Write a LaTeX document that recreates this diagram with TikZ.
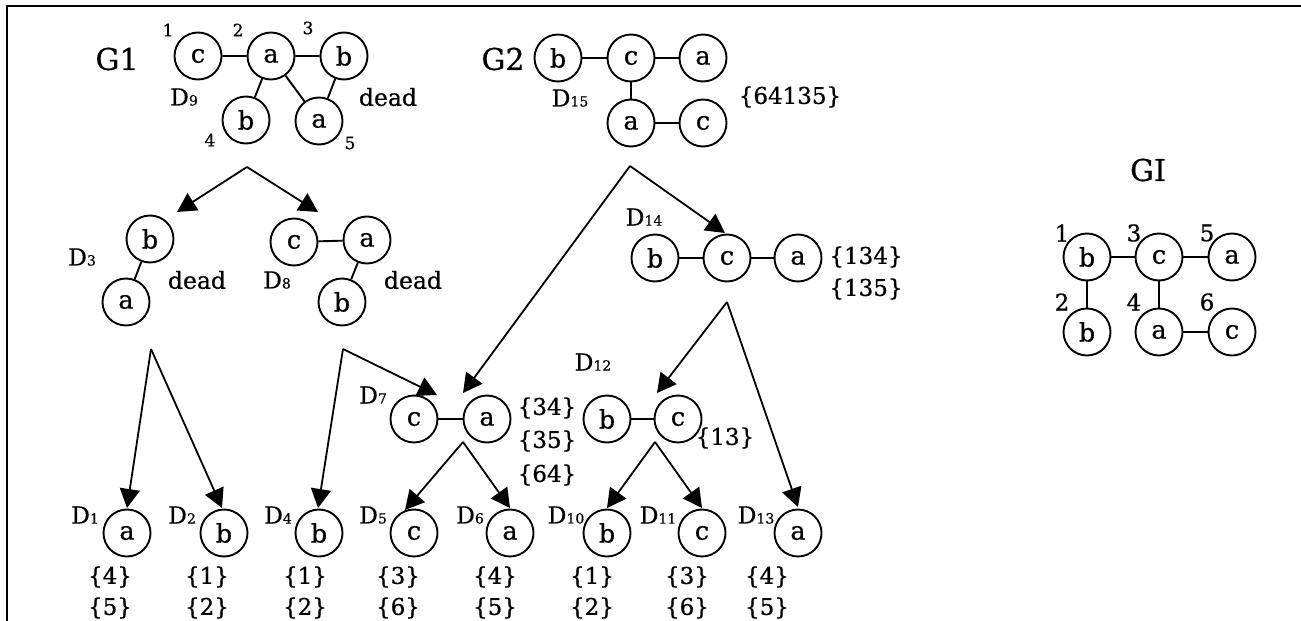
\documentclass[tikz,border=0pt]{standalone}
\usepackage{fontspec}
\setmainfont{DejaVu Serif}[FakeBold=0.6]
\usetikzlibrary{arrows.meta}
\newcommand\Dl[1]{D{\fontsize{14}{14}\selectfont #1}}
\begin{document}
\begin{tikzpicture}[x=1pt,y=-1pt,
 vtx/.style={draw, circle, minimum size=47pt, inner sep=0pt, line width=1.9pt, font=\fontsize{25.5}{25.5}\selectfont},
 lnk/.style={line width=1.9pt},
 arr/.style={line width=1.8pt, -{Triangle[length=19pt,width=20pt]}},
 title/.style={font=\fontsize{30}{30}\selectfont, inner sep=0pt},
 lbl/.style={font=\fontsize{23.5}{23.5}\selectfont, inner sep=0pt},
 num/.style={font=\fontsize{17}{17}\selectfont, inner sep=0pt},
 gnum/.style={font=\fontsize{23}{23}\selectfont, inner sep=0pt},
 setl/.style={font=\fontsize{23}{23}\selectfont, inner sep=0pt},
]
\useasboundingbox (0,0) rectangle (1301,621);
\draw[line width=2.6pt] (7,621) -- (7,6) -- (1301,6);

% ---------- G1 ----------
\node[title] (G1) at (117,59) {G1};
\node[vtx] (g1c) at (198,56) {c};
\node[vtx] (g1a) at (271,56) {a};
\node[vtx] (g1b) at (344,56) {b};
\node[vtx] (g1b4) at (246,120) {b};
\node[vtx] (g1a5) at (319,121) {a};
\draw[lnk] (g1c) -- (g1a) (g1a) -- (g1b) (g1a) -- (g1b4) (g1a) -- (g1a5) (g1b) -- (g1a5);
\node[num] (n1) at (168,30) {1};
\node[num] (n2) at (238,30) {2};
\node[num] (n3) at (308,28) {3};
\node[num] (n4) at (210,140) {4};
\node[num] (n5) at (350,143) {5};
\node[lbl] (D9) at (184,97) {\Dl{9}};
\node[lbl] (dead1) at (388,97) {dead};

% ---------- G2 ----------
\node[title] (G2) at (503,59) {G2};
\node[vtx] (g2b) at (558,58) {b};
\node[vtx] (g2c) at (631,58) {c};
\node[vtx] (g2a) at (703,58) {a};
\node[vtx] (g2a2) at (631,123) {a};
\node[vtx] (g2c2) at (703,123) {c};
\draw[lnk] (g2b) -- (g2c) (g2c) -- (g2a) (g2c) -- (g2a2) (g2a2) -- (g2c2);
\node[lbl] (D15) at (570,98) {\Dl{15}};
\node[setl] (s64135) at (790,97) {\{64135\}};

% ---------- D3, D8 ----------
\node[vtx] (d3b) at (150,239) {b};
\node[vtx] (d3a) at (126,302) {a};
\draw[lnk] (d3b) -- (d3a);
\node[lbl] (D3) at (82,257) {\Dl{3}};
\node[lbl] (dead3) at (197,280) {dead};
\node[vtx] (d8c) at (294,242) {c};
\node[vtx] (d8a) at (367,240) {a};
\node[vtx] (d8b) at (342,302) {b};
\draw[lnk] (d8c) -- (d8a) (d8a) -- (d8b);
\node[lbl] (D8) at (277,280) {\Dl{8}};
\node[lbl] (dead8) at (413,280) {dead};

% ---------- D14 ----------
\node[vtx] (d14b) at (655,258) {b};
\node[vtx] (d14c) at (727,258) {c};
\node[vtx] (d14a) at (798,258) {a};
\draw[lnk] (d14b) -- (d14c) (d14c) -- (d14a);
\node[lbl] (D14) at (644,217) {\Dl{14}};
\node[setl] (s134) at (866,257) {\{134\}};
\node[setl] (s135) at (866,289) {\{135\}};

% ---------- D7, D12 ----------
\node[vtx] (d7c) at (414,419) {c};
\node[vtx] (d7a) at (487,419) {a};
\draw[lnk] (d7c) -- (d7a);
\node[lbl] (D7) at (373,395) {\Dl{7}};
\node[setl] (s34) at (547,408) {\{34\}};
\node[setl] (s35) at (547,441) {\{35\}};
\node[setl] (s64) at (547,475) {\{64\}};
\node[vtx] (d12b) at (607,419) {b};
\node[vtx] (d12c) at (678,419) {c};
\draw[lnk] (d12b) -- (d12c);
\node[lbl] (D12) at (593,362) {\Dl{12}};
\node[setl] (s13) at (725,438) {\{13\}};

% ---------- leaves ----------
\node[vtx] (d1) at (127,533) {a};
\node[vtx] (d2) at (224,533) {b};
\node[vtx] (d4) at (319,533) {b};
\node[vtx] (d5) at (414,533) {c};
\node[vtx] (d6) at (510,533) {a};
\node[vtx] (d10) at (607,533) {b};
\node[vtx] (d11) at (702,533) {c};
\node[vtx] (d13) at (798,533) {a};
\node[lbl] (D1) at (85,515) {\Dl{1}};
\node[lbl] (D2) at (182,515) {\Dl{2}};
\node[lbl] (D4) at (278,515) {\Dl{4}};
\node[lbl] (D5) at (373,515) {\Dl{5}};
\node[lbl] (D6) at (470,515) {\Dl{6}};
\node[lbl] (D10) at (566,515) {\Dl{10}};
\node[lbl] (D11) at (658,515) {\Dl{11}};
\node[lbl] (D13) at (756,515) {\Dl{13}};
\node[setl] (l1a) at (110,577) {\{4\}};
\node[setl] (l1b) at (110,608) {\{5\}};
\node[setl] (l2a) at (207,577) {\{1\}};
\node[setl] (l2b) at (207,608) {\{2\}};
\node[setl] (l4a) at (305,577) {\{1\}};
\node[setl] (l4b) at (305,608) {\{2\}};
\node[setl] (l5a) at (398,577) {\{3\}};
\node[setl] (l5b) at (398,608) {\{6\}};
\node[setl] (l6a) at (495,577) {\{4\}};
\node[setl] (l6b) at (495,608) {\{5\}};
\node[setl] (l10a) at (592,577) {\{1\}};
\node[setl] (l10b) at (592,608) {\{2\}};
\node[setl] (l11a) at (687,577) {\{3\}};
\node[setl] (l11b) at (687,608) {\{6\}};
\node[setl] (l13a) at (767,577) {\{4\}};
\node[setl] (l13b) at (767,608) {\{5\}};

% ---------- arrows ----------
\coordinate (pG1) at (247,167);
\coordinate (tD3) at (177,212);
\coordinate (tD8) at (318,212);
\coordinate (pD3) at (151,349);
\coordinate (tD1) at (127,508);
\coordinate (tD2) at (222,508);
\coordinate (pD8) at (343,349);
\coordinate (tD4) at (318,508);
\coordinate (tD7) at (437,395);
\coordinate (pG2) at (630,166);
\coordinate (tD14) at (725,233);
\coordinate (tD7b) at (463,393);
\coordinate (pD14) at (727,302);
\coordinate (tD12) at (657,393);
\coordinate (tD13) at (798,507);
\coordinate (pD7) at (463,442);
\coordinate (tD5) at (405,510);
\coordinate (tD6) at (510,508);
\coordinate (pD12) at (655,442);
\coordinate (tD10) at (607,508);
\coordinate (tD11) at (702,508);
\draw[arr] (pG1) -- (tD3);
\draw[arr] (pG1) -- (tD8);
\draw[arr] (pD3) -- (tD1);
\draw[arr] (pD3) -- (tD2);
\draw[arr] (pD8) -- (tD4);
\draw[arr] (pD8) -- (tD7);
\draw[arr] (pG2) -- (tD14);
\draw[arr] (pG2) -- (tD7b);
\draw[arr] (pD14) -- (tD12);
\draw[arr] (pD14) -- (tD13);
\draw[arr] (pD7) -- (tD5);
\draw[arr] (pD7) -- (tD6);
\draw[arr] (pD12) -- (tD10);
\draw[arr] (pD12) -- (tD11);

% ---------- GI ----------
\node[title] (GI) at (1148,170) {GI};
\node[vtx] (i1) at (1087,257) {b};
\node[vtx] (i3) at (1159,257) {c};
\node[vtx] (i5) at (1232,257) {a};
\node[vtx] (i2) at (1087,332) {b};
\node[vtx] (i4) at (1159,332) {a};
\node[vtx] (i6) at (1232,332) {c};
\draw[lnk] (i1) -- (i3) (i3) -- (i5) (i1) -- (i2) (i3) -- (i4) (i4) -- (i6);
\node[gnum] (m1) at (1062,233) {1};
\node[gnum] (m3) at (1134,233) {3};
\node[gnum] (m5) at (1207,233) {5};
\node[gnum] (m2) at (1062,302) {2};
\node[gnum] (m4) at (1134,302) {4};
\node[gnum] (m6) at (1207,302) {6};
\end{tikzpicture}
\end{document}
